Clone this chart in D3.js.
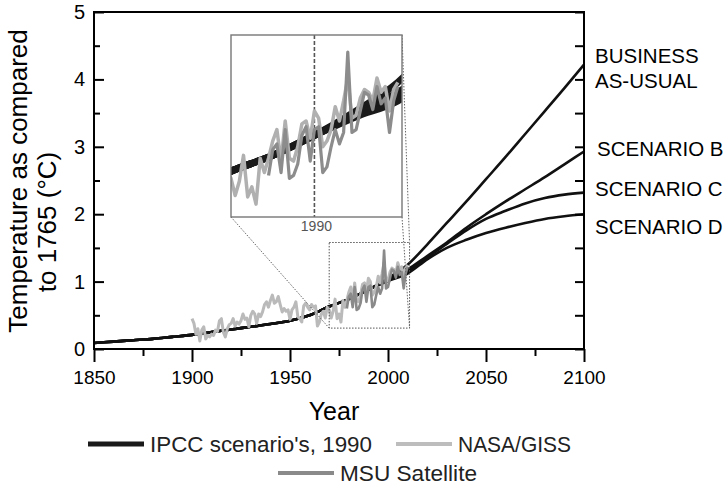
<!DOCTYPE html>
<html>
<head>
<meta charset="utf-8">
<script src="https://cdn.jsdelivr.net/npm/d3@7"></script>
<style>
  body { margin: 0; background: #fff; }
  text { font-family: "Liberation Sans", Arial, sans-serif; }
</style>
</head>
<body>
<script>
// IPCC 1990 curve, shared part up to 1990
var histYears = [1850, 1860, 1870, 1880, 1890, 1900, 1910, 1920, 1930, 1940, 1950, 1960, 1970, 1980, 1990];
var histValues = [0.09, 0.11, 0.13, 0.15, 0.18, 0.21, 0.25, 0.29, 0.33, 0.37, 0.42, 0.50, 0.63, 0.74, 0.88];

// scenario projections after 1990
var scenYears = [2000, 2010, 2020, 2030, 2040, 2050, 2060, 2070, 2080, 2090, 2100];
var bauValues = [1.05, 1.25, 1.55, 1.87, 2.19, 2.52, 2.85, 3.19, 3.53, 3.87, 4.22];
var scenBValues = [1.03, 1.18, 1.38, 1.58, 1.80, 2.00, 2.19, 2.37, 2.55, 2.74, 2.93];
var scenCValues = [1.02, 1.15, 1.36, 1.56, 1.76, 1.93, 2.05, 2.16, 2.24, 2.29, 2.32];
var scenDValues = [1.01, 1.12, 1.33, 1.50, 1.62, 1.72, 1.80, 1.87, 1.93, 1.97, 2.00];

var scenarioNames = ["BUSINESS AS-USUAL", "SCENARIO B", "SCENARIO C", "SCENARIO D"];

// NASA/GISS yearly, 1900-2010
var nasaStart = 1900;
var nasaValues = [
  0.45, 0.38, 0.22, 0.30, 0.12, 0.28, 0.33, 0.15, 0.20, 0.18,
  0.22, 0.20, 0.28, 0.26, 0.42, 0.45, 0.25, 0.18, 0.30, 0.36,
  0.38, 0.45, 0.34, 0.40, 0.37, 0.42, 0.52, 0.44, 0.46, 0.33,
  0.50, 0.56, 0.52, 0.38, 0.52, 0.48, 0.55, 0.66, 0.70, 0.62,
  0.72, 0.80, 0.68, 0.70, 0.78, 0.66, 0.55, 0.60, 0.56, 0.58,
  0.44, 0.58, 0.62, 0.70, 0.48, 0.45, 0.40, 0.64, 0.68, 0.62,
  0.58, 0.66, 0.62, 0.64, 0.34, 0.40, 0.52, 0.56, 0.46, 0.62,
  0.58, 0.46, 0.56, 0.74, 0.45, 0.52, 0.40, 0.72, 0.62, 0.72,
  0.84, 0.92, 0.70, 0.98, 0.72, 0.70, 0.80, 0.96, 0.98, 0.86,
  1.05, 1.00, 0.80, 0.84, 0.92, 1.08, 0.98, 1.12, 1.28, 1.00,
  1.02, 1.14, 1.20, 1.18, 1.12, 1.28, 1.18, 1.22, 1.05, 1.20,
  1.25
];

// MSU satellite yearly, 1979-2010
var msuStart = 1979;
var msuValues = [
  0.60, 0.78, 0.82, 0.62, 0.92, 0.58, 0.60, 0.68, 0.88, 0.94,
  0.70, 0.92, 0.94, 0.62, 0.66, 0.80, 0.92, 0.82, 0.90, 1.46,
  0.90, 0.92, 1.05, 1.18, 1.16, 1.06, 1.22, 1.10, 1.14, 0.90,
  1.12, 1.22
];

var xTicks = [1850, 1900, 1950, 2000, 2050, 2100];
var xMinorTicks = [1875, 1925, 1975, 2025, 2075];
var yTicks = [0, 1, 2, 3, 4, 5];
var yMinorTicks = [0.5, 1.5, 2.5, 3.5, 4.5];

// zoomed window shown in the inset
var zoomYears = [1970, 2011];
var zoomTemps = [0.31, 1.58];

var w = 728, h = 491;

var svg = d3.select("body").append("svg")
    .attr("width", w)
    .attr("height", h);

var x = d3.scaleLinear().domain([1850, 2100]).range([94, 584]);
var y = d3.scaleLinear().domain([0, 5]).range([349, 12]);

// build series
function pairs(years, values) {
    return years.map(function(yr, i) { return { year: yr, value: values[i] }; });
}
var scenarios = [bauValues, scenBValues, scenCValues, scenDValues].map(function(v) {
    return pairs(histYears, histValues).concat(pairs(scenYears, v));
});
var nasa = nasaValues.map(function(v, i) { return { year: nasaStart + i, value: v }; });
var msu = msuValues.map(function(v, i) { return { year: msuStart + i, value: v }; });

var ipccLine = d3.line()
    .x(function(d) { return x(d.year); })
    .y(function(d) { return y(d.value); })
    .curve(d3.curveMonotoneX);

var obsLine = d3.line()
    .x(function(d) { return x(d.year); })
    .y(function(d) { return y(d.value); });

// IPCC lines
svg.append("g").selectAll("path")
    .data(scenarios)
    .enter().append("path")
    .attr("d", ipccLine)
    .attr("fill", "none")
    .attr("stroke", "#111")
    .attr("stroke-width", 2.6);

// observations
svg.append("path")
    .datum(nasa)
    .attr("d", obsLine)
    .attr("fill", "none")
    .attr("stroke", "#bababa")
    .attr("stroke-width", 3)
    .attr("stroke-linejoin", "round");

svg.append("path")
    .datum(msu)
    .attr("d", obsLine)
    .attr("fill", "none")
    .attr("stroke", "#8a8a8a")
    .attr("stroke-width", 2.6)
    .attr("stroke-linejoin", "round");

// small dotted box + connectors
var bx0 = x(zoomYears[0]), bx1 = x(zoomYears[1]);
var by0 = y(zoomTemps[1]), by1 = y(zoomTemps[0]);
svg.append("rect")
    .attr("x", bx0).attr("y", by0)
    .attr("width", bx1 - bx0).attr("height", by1 - by0)
    .attr("fill", "none")
    .attr("stroke", "#555")
    .attr("stroke-width", 1)
    .attr("stroke-dasharray", "1.5,1.5");

// inset
var ix = d3.scaleLinear().domain(zoomYears).range([231, 402]);
var iy = d3.scaleLinear().domain(zoomTemps).range([217, 35]);

var connectors = [
    [ix.range()[0], iy.range()[0], bx0, by1],
    [ix.range()[1], iy.range()[1], bx1, by0],
    [ix.range()[1], iy.range()[0], bx1, by1]
];
svg.append("g").selectAll("line")
    .data(connectors)
    .enter().append("line")
    .attr("x1", function(d) { return d[0]; })
    .attr("y1", function(d) { return d[1]; })
    .attr("x2", function(d) { return d[2]; })
    .attr("y2", function(d) { return d[3]; })
    .attr("stroke", "#666")
    .attr("stroke-width", 1)
    .attr("stroke-dasharray", "1.5,1.5");

svg.append("clipPath").attr("id", "insetClip")
    .append("rect")
    .attr("x", 231).attr("y", 35)
    .attr("width", 171).attr("height", 182);

var inset = svg.append("g");
inset.append("rect")
    .attr("x", 231).attr("y", 35)
    .attr("width", 171).attr("height", 182)
    .attr("fill", "#fff");

var insetPlot = inset.append("g").attr("clip-path", "url(#insetClip)");

var iIpcc = d3.line()
    .x(function(d) { return ix(d.year); })
    .y(function(d) { return iy(d.value); })
    .curve(d3.curveMonotoneX);
var iObs = d3.line()
    .x(function(d) { return ix(d.year); })
    .y(function(d) { return iy(d.value); });

insetPlot.append("line")
    .attr("x1", ix(1990)).attr("x2", ix(1990))
    .attr("y1", 35).attr("y2", 217)
    .attr("stroke", "#555")
    .attr("stroke-width", 1.6)
    .attr("stroke-dasharray", "4,2");

insetPlot.selectAll(".iscen")
    .data(scenarios)
    .enter().append("path")
    .attr("class", "iscen")
    .attr("d", iIpcc)
    .attr("fill", "none")
    .attr("stroke", "#1a1a1a")
    .attr("stroke-width", 7);

insetPlot.append("path")
    .datum(nasa)
    .attr("d", iObs)
    .attr("fill", "none")
    .attr("stroke", "#b0b0b0")
    .attr("stroke-width", 3.5)
    .attr("stroke-linejoin", "round");

insetPlot.append("path")
    .datum(msu)
    .attr("d", iObs)
    .attr("fill", "none")
    .attr("stroke", "#8c8c8c")
    .attr("stroke-width", 3.2)
    .attr("stroke-linejoin", "round");

inset.append("rect")
    .attr("x", 231).attr("y", 35)
    .attr("width", 171).attr("height", 182)
    .attr("fill", "none")
    .attr("stroke", "#777")
    .attr("stroke-width", 1.4);

inset.append("text")
    .attr("x", ix(1990) + 2).attr("y", 231)
    .attr("text-anchor", "middle")
    .attr("font-size", 14)
    .attr("fill", "#555")
    .text("1990");

// frame and axes
svg.append("rect")
    .attr("x", 94).attr("y", 12)
    .attr("width", 490).attr("height", 337)
    .attr("fill", "none")
    .attr("stroke", "#000")
    .attr("stroke-width", 2);

function axisStyle(g) {
    g.select(".domain").remove();
    g.selectAll("line").attr("stroke", "#000").attr("stroke-width", 2);
    g.selectAll("text").attr("fill", "#000");
}

svg.append("g")
    .attr("transform", "translate(94,0)")
    .call(d3.axisRight(y).tickValues(yTicks).tickSize(10).tickFormat(""))
    .call(axisStyle);
svg.append("g")
    .attr("transform", "translate(94,0)")
    .call(d3.axisRight(y).tickValues(yMinorTicks).tickSize(6).tickFormat(""))
    .call(axisStyle);
svg.append("g")
    .attr("transform", "translate(94,0)")
    .call(d3.axisLeft(y).tickValues(yTicks).tickSize(0).tickPadding(9).tickFormat(d3.format("d")))
    .call(axisStyle)
    .selectAll("text").attr("font-size", 20).style("font-family", "Liberation Sans, Arial, sans-serif");

svg.append("g")
    .attr("transform", "translate(584,0)")
    .call(d3.axisLeft(y).tickValues(yTicks.concat(yMinorTicks)).tickSize(9).tickFormat(""))
    .call(axisStyle);

svg.append("g")
    .attr("transform", "translate(0,349)")
    .call(d3.axisBottom(x).tickValues(xTicks).tickSize(13).tickPadding(9).tickFormat(d3.format("d")))
    .call(axisStyle)
    .selectAll("text").attr("font-size", 19).style("font-family", "Liberation Sans, Arial, sans-serif");
svg.append("g")
    .attr("transform", "translate(0,349)")
    .call(d3.axisBottom(x).tickValues(xMinorTicks).tickSize(7).tickFormat(""))
    .call(axisStyle);

// axis titles
svg.append("text")
    .attr("x", 334).attr("y", 420)
    .attr("text-anchor", "middle")
    .attr("font-size", 25)
    .text("Year");

var yTitle = svg.append("text")
    .attr("transform", "rotate(-90)")
    .attr("text-anchor", "middle")
    .attr("font-size", 26);
yTitle.append("tspan").attr("x", -181).attr("y", 27).text("Temperature as compared");
yTitle.append("tspan").attr("x", -222).attr("y", 56).text("to 1765 (\u00B0C)");

// scenario labels
var labelRows = [
    { text: "BUSINESS", x: 595, y: 63 },
    { text: "AS-USUAL", x: 595, y: 88 },
    { text: scenarioNames[1], x: 597, y: 156 },
    { text: scenarioNames[2], x: 595, y: 196 },
    { text: scenarioNames[3], x: 595, y: 234 }
];
svg.append("g").selectAll("text")
    .data(labelRows)
    .enter().append("text")
    .attr("x", function(d) { return d.x; })
    .attr("y", function(d) { return d.y; })
    .attr("font-size", 20.5)
    .text(function(d) { return d.text; });

// legend
var legendItems = [
    { label: "IPCC scenario's, 1990", color: "#1a1a1a", x: 88, y: 444, width: 5, textWidth: 222 },
    { label: "NASA/GISS", color: "#bdbdbd", x: 396, y: 444, width: 4, textWidth: 113 },
    { label: "MSU Satellite", color: "#8a8a8a", x: 278, y: 473, width: 4, textWidth: 137 }
];
var legend = svg.append("g").selectAll("g")
    .data(legendItems)
    .enter().append("g");
legend.append("line")
    .attr("x1", function(d) { return d.x; })
    .attr("x2", function(d) { return d.x + 56; })
    .attr("y1", function(d) { return d.y; })
    .attr("y2", function(d) { return d.y; })
    .attr("stroke", function(d) { return d.color; })
    .attr("stroke-width", function(d) { return d.width; });
legend.append("text")
    .attr("x", function(d) { return d.x + 62; })
    .attr("y", function(d) { return d.y + 8; })
    .attr("font-size", 22)
    .attr("fill", "#222")
    .attr("textLength", function(d) { return d.textWidth; })
    .attr("lengthAdjust", "spacingAndGlyphs")
    .text(function(d) { return d.label; });
</script>
</body>
</html>
